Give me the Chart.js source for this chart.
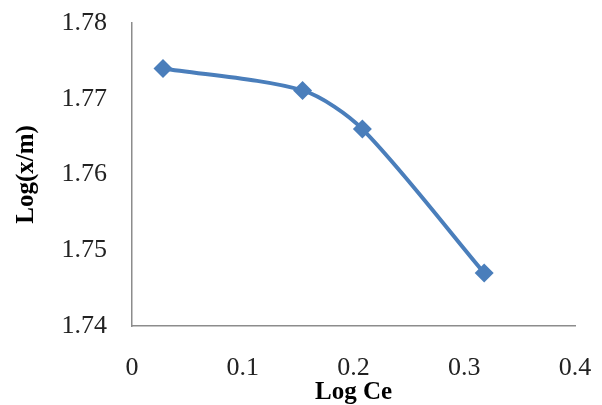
<!DOCTYPE html>
<html>
<head>
<meta charset="utf-8">
<script src="https://cdn.jsdelivr.net/npm/chart.js@4/dist/chart.umd.min.js"></script>
<style>
  html, body { margin: 0; padding: 0; background: #fff; }
  #wrap { width: 602px; height: 405px; }
</style>
</head>
<body>
<div id="wrap"><canvas id="grafica"></canvas></div>
<script>
// valores
const logCe = [0.028, 0.154, 0.208, 0.318];
const logXm = [1.774, 1.7711, 1.766, 1.747];
const xTicks = [0, 0.1, 0.2, 0.3, 0.4];
const yTicks = [1.74, 1.75, 1.76, 1.77, 1.78];

const puntos = logCe.map((x, i) => ({ x: x, y: logXm[i] }));
const azul = '#4a7ebb';
const serif = "'Liberation Serif', 'Times New Roman', serif";

const ctx = document.getElementById('grafica').getContext('2d');
new Chart(ctx, {
    type: 'scatter',
    data: {
        datasets: [{
            data: puntos,
            showLine: true,
            tension: 0.28,
            borderColor: azul,
            borderWidth: 4,
            backgroundColor: azul,
            pointStyle: 'rectRot',
            pointRadius: 9.5,
            pointHoverRadius: 9.5,
            pointBorderWidth: 0
        }]
    },
    options: {
        responsive: true,
        maintainAspectRatio: false,
        animation: false,
        layout: { padding: { top: 23, right: 27, left: 0, bottom: 0 } },
        plugins: {
            legend: { display: false },
            tooltip: { enabled: false }
        },
        scales: {
            x: {
                type: 'linear',
                min: 0,
                max: 0.4,
                afterBuildTicks: s => { s.ticks = xTicks.map(v => ({ value: v })); },
                afterFit: s => {
                    s.height = 79;
                    s.paddingLeft = 0;
                    s.paddingRight = 0;
                },
                grid: { display: false, drawTicks: false },
                border: { display: true, color: '#8c8c8c', width: 1.5 },
                ticks: {
                    padding: 27,
                    color: '#222',
                    font: { family: serif, size: 26 },
                    callback: v => String(v)
                },
                title: {
                    display: true,
                    text: 'Log Ce',
                    color: '#000',
                    padding: { top: 0, bottom: -3 },
                    font: { family: serif, size: 25, weight: 'bold' }
                }
            },
            y: {
                type: 'linear',
                min: 1.74,
                max: 1.78,
                afterBuildTicks: s => { s.ticks = yTicks.map(v => ({ value: v })); },
                afterFit: s => {
                    s.width = 132;
                    s.paddingTop = 0;
                    s.paddingBottom = 0;
                },
                grid: { display: false, drawTicks: false },
                border: { display: true, color: '#8c8c8c', width: 1.5 },
                ticks: {
                    padding: 25,
                    color: '#222',
                    font: { family: serif, size: 26 },
                    callback: v => v.toFixed(2)
                },
                title: {
                    display: true,
                    text: 'Log(x/m)',
                    color: '#000',
                    padding: { top: 12, bottom: 0 },
                    font: { family: serif, size: 25, weight: 'bold' }
                }
            }
        }
    }
});
</script>
</body>
</html>
